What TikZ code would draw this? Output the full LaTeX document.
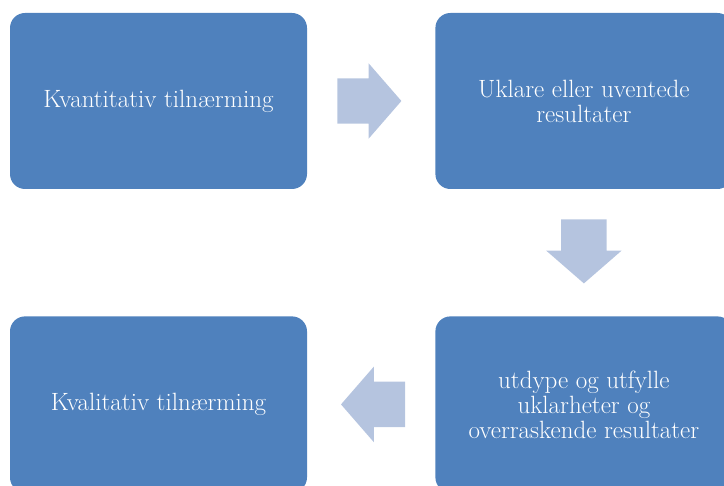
\documentclass[tikz,border=0pt]{standalone}
\usepackage{fontspec}
\usepackage{tikz}
\usetikzlibrary{shapes.arrows, positioning}
\definecolor{smblue}{RGB}{79,129,189}
\definecolor{smlight}{RGB}{181,196,223}

\begin{document}
\begin{tikzpicture}[
  x=1pt, y=1pt,
  node distance=127pt and 128pt,
  box/.style={rectangle, fill=smblue, draw=none, minimum width=297pt, minimum height=176pt, align=center, rounded corners=15pt, text=white, font=\fontsize{25}{25}\selectfont, inner sep=0pt},
  flow/.style={single arrow, fill=smlight, draw=none, minimum height=64pt, minimum width=75pt, single arrow head extend=15pt, single arrow tip angle=98, inner xsep=0pt, inner ysep=22.5pt, anchor=tail},
  flowv/.style={flow, inner xsep=22.5pt, inner ysep=0pt}
]
\useasboundingbox (0,0) rectangle (724,-486);

% Boxes
\node[box] (kvant) at (158.5,-101) {Kvantitativ tilnærming};
\node[box, right=of kvant] (uklar) {Uklare eller uventede\\resultater};
\node[box, below=of uklar] (utdyp) {utdype og utfylle\\uklarheter og\\overraskende resultater};
\node[box, below=of kvant] (kval) {Kvalitativ tilnærming};

% Arrows
\node[flow] (a1) at ([xshift=30pt]kvant.east) {};
\node[flowv, shape border rotate=270] (a2) at ([yshift=-30pt]uklar.south) {};
\node[flow, shape border rotate=180] (a3) at ([xshift=-30pt]utdyp.west) {};
\end{tikzpicture}
\end{document}
